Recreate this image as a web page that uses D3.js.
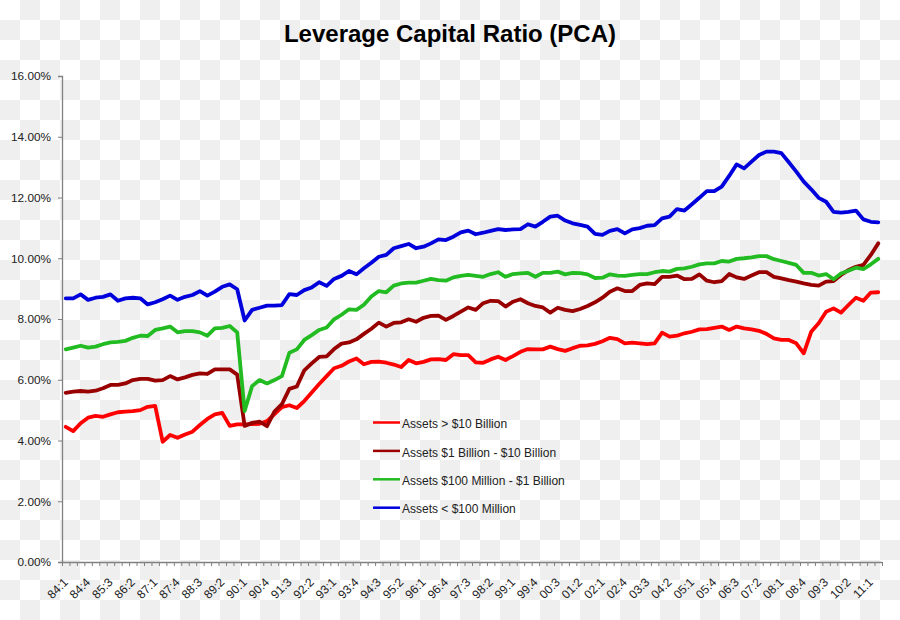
<!DOCTYPE html>
<html>
<head>
<meta charset="utf-8">
<script src="https://cdn.jsdelivr.net/npm/d3@7/dist/d3.min.js"></script>
<style>
  html, body { margin: 0; padding: 0; background: #fff; }
  svg { display: block; }
  text { font-family: "Liberation Sans", Arial, sans-serif; }
</style>
</head>
<body>
<svg id="chart" width="900" height="620"></svg>
<script>
// ---------------- DATA ----------------
const title = "Leverage Capital Ratio (PCA)";

const categories = [
  "84:1","84:2","84:3","84:4","85:1","85:2","85:3","85:4","86:1","86:2","86:3","86:4",
  "87:1","87:2","87:3","87:4","88:1","88:2","88:3","88:4","89:1","89:2","89:3","89:4",
  "90:1","90:2","90:3","90:4","91:1","91:2","91:3","91:4","92:1","92:2","92:3","92:4",
  "93:1","93:2","93:3","93:4","94:1","94:2","94:3","94:4","95:1","95:2","95:3","95:4",
  "96:1","96:2","96:3","96:4","97:1","97:2","97:3","97:4","98:1","98:2","98:3","98:4",
  "99:1","99:2","99:3","99:4","00:1","00:2","00:3","00:4","01:1","01:2","01:3","01:4",
  "02:1","02:2","02:3","02:4","03:1","03:2","03:3","03:4","04:1","04:2","04:3","04:4",
  "05:1","05:2","05:3","05:4","06:1","06:2","06:3","06:4","07:1","07:2","07:3","07:4",
  "08:1","08:2","08:3","08:4","09:1","09:2","09:3","09:4","10:1","10:2","10:3","10:4",
  "11:1","11:2"
];

const seriesNames = [
  "Assets > $10 Billion",
  "Assets $1 Billion - $10 Billion",
  "Assets $100 Million - $1 Billion",
  "Assets < $100 Million"
];

const yTicks = [0, 2, 4, 6, 8, 10, 12, 14, 16];

const over10B = [
  4.45,4.31,4.57,4.75,4.81,4.78,4.86,4.93,4.95,4.97,5.00,5.11,
  5.14,3.96,4.18,4.09,4.20,4.29,4.51,4.71,4.86,4.91,4.48,4.53,
  4.53,4.54,4.55,4.64,4.87,5.10,5.16,5.07,5.30,5.58,5.86,6.12,
  6.38,6.46,6.60,6.70,6.51,6.59,6.60,6.56,6.50,6.42,6.65,6.54,
  6.59,6.67,6.68,6.65,6.84,6.81,6.81,6.57,6.56,6.67,6.76,6.65,
  6.78,6.92,7.01,7.00,7.00,7.09,7.01,6.95,7.04,7.12,7.13,7.18,
  7.27,7.38,7.34,7.20,7.22,7.20,7.17,7.20,7.55,7.42,7.45,7.53,
  7.58,7.66,7.67,7.71,7.75,7.64,7.75,7.69,7.66,7.61,7.51,7.36,
  7.31,7.31,7.20,6.87,7.58,7.86,8.24,8.35,8.21,8.46,8.70,8.60,
  8.87,8.88
];

const from1Bto10B = [
  5.57,5.61,5.63,5.61,5.64,5.72,5.83,5.83,5.88,5.99,6.03,6.03,
  5.97,5.99,6.12,6.01,6.08,6.16,6.21,6.19,6.34,6.34,6.34,6.17,
  4.48,4.58,4.62,4.47,4.95,5.20,5.70,5.78,6.31,6.54,6.75,6.77,
  7.01,7.19,7.23,7.33,7.51,7.68,7.88,7.75,7.87,7.89,7.99,7.91,
  8.04,8.10,8.11,7.97,8.10,8.24,8.38,8.30,8.52,8.60,8.59,8.41,
  8.57,8.65,8.52,8.43,8.38,8.21,8.37,8.30,8.26,8.33,8.43,8.55,
  8.70,8.90,9.01,8.92,8.92,9.12,9.17,9.15,9.39,9.39,9.43,9.31,
  9.32,9.47,9.26,9.21,9.25,9.48,9.37,9.32,9.43,9.54,9.54,9.39,
  9.34,9.28,9.23,9.17,9.12,9.10,9.23,9.25,9.45,9.61,9.72,9.78,
  10.11,10.49
];

const from100Mto1B = [
  7.00,7.06,7.12,7.06,7.09,7.17,7.23,7.25,7.28,7.38,7.45,7.44,
  7.64,7.69,7.75,7.56,7.60,7.60,7.56,7.45,7.69,7.71,7.77,7.56,
  4.97,5.79,5.99,5.88,5.99,6.12,6.89,7.00,7.31,7.47,7.64,7.72,
  7.99,8.14,8.32,8.30,8.47,8.74,8.92,8.88,9.10,9.17,9.20,9.20,
  9.26,9.32,9.28,9.26,9.37,9.42,9.45,9.42,9.39,9.48,9.54,9.39,
  9.48,9.50,9.52,9.39,9.52,9.52,9.56,9.47,9.52,9.51,9.47,9.35,
  9.36,9.47,9.43,9.42,9.45,9.48,9.48,9.54,9.58,9.56,9.65,9.67,
  9.72,9.80,9.83,9.83,9.91,9.89,9.98,10.00,10.03,10.07,10.07,9.97,
  9.91,9.85,9.78,9.52,9.52,9.43,9.48,9.31,9.50,9.59,9.69,9.64,
  9.80,9.98
];

const under100M = [
  8.68,8.68,8.81,8.63,8.70,8.73,8.81,8.60,8.68,8.70,8.68,8.48,
  8.55,8.65,8.77,8.63,8.73,8.79,8.92,8.77,8.90,9.06,9.14,8.98,
  7.95,8.30,8.37,8.44,8.44,8.46,8.82,8.79,8.95,9.04,9.21,9.09,
  9.32,9.42,9.58,9.47,9.67,9.85,10.05,10.11,10.33,10.40,10.47,10.33,
  10.38,10.49,10.62,10.60,10.71,10.85,10.91,10.79,10.84,10.90,10.96,10.93,
  10.95,10.96,11.12,11.04,11.20,11.37,11.40,11.24,11.15,11.10,11.04,10.80,
  10.77,10.90,10.96,10.82,10.95,10.99,11.07,11.09,11.31,11.37,11.62,11.57,
  11.78,11.99,12.21,12.21,12.36,12.71,13.09,12.96,13.18,13.40,13.51,13.51,
  13.46,13.16,12.85,12.52,12.27,11.99,11.86,11.53,11.50,11.53,11.57,11.28,
  11.20,11.18
];

const seriesValues = [over10B, from1Bto10B, from100Mto1B, under100M];
const seriesColors = ["#ff0000", "#990000", "#22bb22", "#0000dd"];

// ---------------- CHART ----------------
const svg = d3.select("#chart");
const W = 900, H = 620;
const plot = { left: 62, right: 882, top: 76, bottom: 562 };

// checkerboard background
const defs = svg.append("defs");
const pat = defs.append("pattern")
  .attr("id", "checker").attr("patternUnits", "userSpaceOnUse")
  .attr("width", 40).attr("height", 40);
pat.append("rect").attr("width", 40).attr("height", 40).attr("fill", "#ffffff");
pat.append("rect").attr("x", 20).attr("y", 0).attr("width", 20).attr("height", 20).attr("fill", "#efefef");
pat.append("rect").attr("x", 0).attr("y", 20).attr("width", 20).attr("height", 20).attr("fill", "#efefef");
svg.append("rect").attr("width", W).attr("height", H).attr("fill", "url(#checker)");

const x = d3.scaleBand().domain(categories).range([plot.left, plot.right]).padding(0);
const xIdx = d3.scaleLinear().domain([0, categories.length]).range([plot.left, plot.right]);
const y = d3.scaleLinear().domain([0, 16]).range([plot.bottom, plot.top]);

// title
svg.append("text")
  .attr("x", 450).attr("y", 42)
  .attr("text-anchor", "middle")
  .attr("font-size", 24).attr("font-weight", "bold").attr("fill", "#000")
  .text(title);

// y axis
const yAxis = svg.append("g")
  .attr("transform", `translate(${plot.left},0)`)
  .call(d3.axisLeft(y).tickValues(yTicks).tickFormat(d => d.toFixed(2) + "%").tickSize(4).tickPadding(7));
yAxis.select(".domain").attr("stroke", "#808080").attr("stroke-width", 1.3);
yAxis.selectAll(".tick line").attr("stroke", "#808080");
yAxis.selectAll(".tick text").attr("font-size", 11.8).attr("fill", "#222")
  .attr("font-family", '"Liberation Sans", Arial, sans-serif');

// x axis: minor ticks at category boundaries
const xTicks = svg.append("g")
  .attr("transform", `translate(0,${plot.bottom})`)
  .call(d3.axisBottom(xIdx).tickValues(d3.range(categories.length + 1)).tickFormat("").tickSize(4).tickSizeOuter(0));
xTicks.select(".domain").attr("stroke", "#808080").attr("stroke-width", 1.3);
xTicks.selectAll(".tick line").attr("stroke", "#808080");

// x axis labels (every third category)
const xLab = svg.append("g")
  .attr("transform", `translate(0,${plot.bottom})`)
  .call(d3.axisBottom(x).tickValues(categories.filter((c, i) => i % 3 === 0)).tickSize(0));
xLab.select(".domain").remove();
xLab.selectAll(".tick text")
  .attr("font-size", 12).attr("fill", "#222")
  .attr("font-family", '"Liberation Sans", Arial, sans-serif')
  .attr("text-anchor", "end")
  .attr("x", 0).attr("y", 0).attr("dy", 0)
  .attr("transform", "translate(3,21) rotate(-45)");

// lines
const line = d3.line()
  .x((d, i) => x(categories[i]) + x.bandwidth() / 2)
  .y(d => y(d));

seriesValues.forEach((vals, k) => {
  svg.append("path")
    .datum(vals)
    .attr("fill", "none")
    .attr("stroke", seriesColors[k])
    .attr("stroke-width", 3.8)
    .attr("stroke-linejoin", "round")
    .attr("stroke-linecap", "round")
    .attr("d", line);
});

// legend
const legend = svg.append("g").attr("transform", "translate(373,424)");
seriesNames.forEach((name, k) => {
  const g = legend.append("g").attr("transform", `translate(0,${k * 28.4})`);
  g.append("line").attr("x1", 0).attr("x2", 27).attr("y1", -1.5).attr("y2", -1.5)
    .attr("stroke", seriesColors[k]).attr("stroke-width", 2.5);
  g.append("text").attr("x", 29).attr("y", 0).attr("dy", "0.35em")
    .attr("font-size", 12).attr("fill", "#222").text(name);
});
</script>
</body>
</html>
